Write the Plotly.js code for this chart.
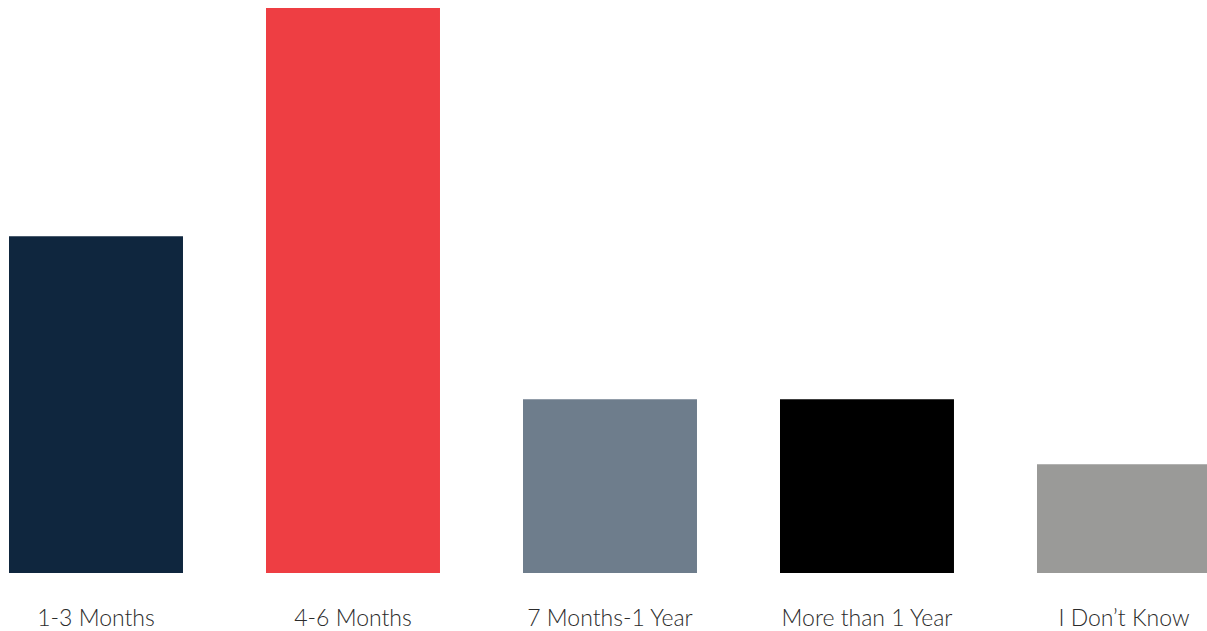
<!DOCTYPE html>
<html>
<head>
<meta charset="utf-8">
<script src="https://cdn.plot.ly/plotly-3.0.1.min.js"></script>
<style>html,body{margin:0;padding:0;background:#fff;}#chart{width:1207px;height:631px;}</style>
</head>
<body>
<div id="chart"></div>
<script>
const categories = ["1-3 Months", "4-6 Months", "7 Months-1 Year", "More than 1 Year", "I Don\u2019t Know"];
const values = [31, 52, 16, 16, 10];
const barColors = ["#0f263e", "#ee3e43", "#6e7d8c", "#000000", "#9a9a98"];

const trace = {
  type: "bar",
  x: [0, 1, 2, 3, 4],
  y: values,
  marker: { color: barColors, line: { width: 0 } },
  hoverinfo: "none"
};

const layout = {
  width: 1207,
  height: 631,
  margin: { l: 9, r: 0, t: 8, b: 58 },
  paper_bgcolor: "#ffffff",
  plot_bgcolor: "#ffffff",
  bargap: 0.323,
  showlegend: false,
  xaxis: {
    range: [-0.3385, 4.323],
    tickmode: "array",
    tickvals: [0, 1, 2, 3, 4],
    ticktext: categories,
    ticks: "outside",
    ticklen: 24,
    tickcolor: "rgba(0,0,0,0)",
    showline: false,
    showgrid: false,
    zeroline: false,
    tickfont: { family: "Lato, 'Open Sans', sans-serif", size: 23, color: "#2b2b2b", weight: 300 },
    fixedrange: true
  },
  yaxis: {
    range: [0, 52],
    showticklabels: false,
    showgrid: false,
    zeroline: false,
    showline: false,
    ticks: "",
    fixedrange: true
  }
};

Plotly.newPlot("chart", [trace], layout, { displayModeBar: false, staticPlot: true });
</script>
</body>
</html>
